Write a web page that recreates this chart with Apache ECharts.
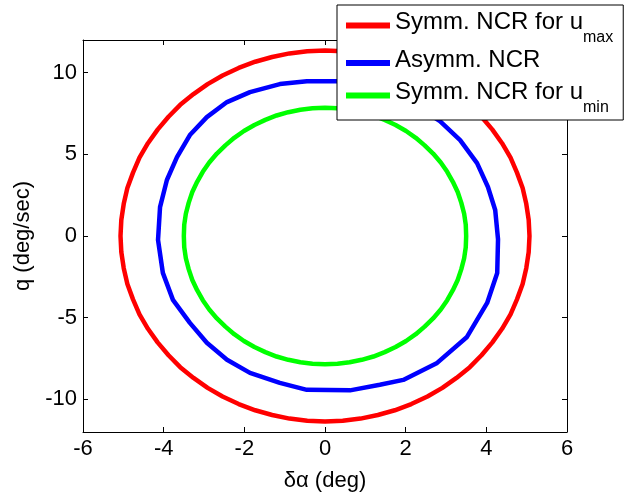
<!DOCTYPE html>
<html>
<head>
<meta charset="utf-8">
<script src="https://cdn.jsdelivr.net/npm/echarts@6/dist/echarts.min.js"></script>
<style>html,body{margin:0;padding:0;background:#fff}#c{width:625px;height:492px}</style>
</head>
<body>
<div id="c"></div>
<script>
// ---- data ----
const seriesNames = ['Symm. NCR for umax', 'Asymm. NCR', 'Symm. NCR for umin'];
const redX = [5.07,5.05,4.99,4.90,4.76,4.60,4.39,4.15,3.88,3.59,3.26,2.91,2.54,2.14,1.73,1.31,0.88,0.44,0,
  -0.44,-0.88,-1.31,-1.73,-2.14,-2.54,-2.91,-3.26,-3.59,-3.88,-4.15,-4.39,-4.60,-4.76,-4.90,-4.99,-5.05,-5.07,
  -5.05,-4.99,-4.90,-4.76,-4.60,-4.39,-4.15,-3.88,-3.59,-3.26,-2.91,-2.54,-2.14,-1.73,-1.31,-0.88,-0.44,0,
  0.44,0.88,1.31,1.73,2.14,2.54,2.91,3.26,3.59,3.88,4.15,4.39,4.60,4.76,4.90,4.99,5.05,5.07];
const redY = [0,0.99,1.97,2.94,3.88,4.80,5.68,6.51,7.30,8.03,8.69,9.30,9.83,10.29,10.67,10.96,11.18,11.31,11.35,
  11.31,11.18,10.96,10.67,10.29,9.83,9.30,8.69,8.03,7.30,6.51,5.68,4.80,3.88,2.94,1.97,0.99,0,
  -0.99,-1.97,-2.94,-3.88,-4.80,-5.68,-6.51,-7.30,-8.03,-8.69,-9.30,-9.83,-10.29,-10.67,-10.96,-11.18,-11.31,-11.35,
  -11.31,-11.18,-10.96,-10.67,-10.29,-9.83,-9.30,-8.69,-8.03,-7.30,-6.51,-5.68,-4.80,-3.88,-2.94,-1.97,-0.99,0];
const blueX = [4.29,4.22,4.04,3.77,3.35,2.85,2.05,1.2,0.4,-0.45,-1.12,-1.86,-2.43,-2.93,-3.35,-3.67,-3.92,-4.09,-4.14,-4.02,-3.77,-3.35,-2.93,-2.43,-1.86,-1.12,-0.45,0.62,1.36,1.94,2.78,3.52,4.02,4.27,4.29];
const blueY = [-0.2,1.59,3.0,4.46,5.87,7.03,8.3,9.1,9.48,9.48,9.30,8.81,8.20,7.28,6.18,4.83,3.43,1.77,-0.24,-2.26,-3.91,-5.32,-6.54,-7.58,-8.38,-8.99,-9.42,-9.45,-9.11,-8.81,-7.77,-6.18,-4.10,-2.26,-0.2];
const greenX = [3.5,3.49,3.45,3.38,3.29,3.17,3.03,2.87,2.68,2.47,2.25,2.01,1.75,1.48,1.20,0.91,0.61,0.31,0,
  -0.31,-0.61,-0.91,-1.20,-1.48,-1.75,-2.01,-2.25,-2.47,-2.68,-2.87,-3.03,-3.17,-3.29,-3.38,-3.45,-3.49,-3.5,
  -3.49,-3.45,-3.38,-3.29,-3.17,-3.03,-2.87,-2.68,-2.47,-2.25,-2.01,-1.75,-1.48,-1.20,-0.91,-0.61,-0.31,0,
  0.31,0.61,0.91,1.20,1.48,1.75,2.01,2.25,2.47,2.68,2.87,3.03,3.17,3.29,3.38,3.45,3.49,3.5];
const greenY = [0,0.69,1.36,2.03,2.69,3.32,3.93,4.50,5.05,5.55,6.01,6.43,6.80,7.11,7.38,7.58,7.73,7.82,7.85,
  7.82,7.73,7.58,7.38,7.11,6.80,6.43,6.01,5.55,5.05,4.50,3.93,3.32,2.69,2.03,1.36,0.69,0,
  -0.69,-1.36,-2.03,-2.69,-3.32,-3.93,-4.50,-5.05,-5.55,-6.01,-6.43,-6.80,-7.11,-7.38,-7.58,-7.73,-7.82,-7.85,
  -7.82,-7.73,-7.58,-7.38,-7.11,-6.80,-6.43,-6.01,-5.55,-5.05,-4.50,-3.93,-3.32,-2.69,-2.03,-1.36,-0.69,0];
const xTicks = [-6,-4,-2,0,2,4,6];
const yTicks = [-10,-5,0,5,10];
const xName = 'δα (deg)';
const yName = 'q (deg/sec)';

const zip = (xs, ys) => xs.map((x, i) => [x, ys[i]]);
const FONT = 'Arial, "Liberation Sans", sans-serif';
const chart = echarts.init(document.getElementById('c'), null, {renderer: 'canvas'});

const axisCommon = {
  axisLine: {show: true, onZero: false, lineStyle: {color: '#000', width: 1}},
  axisTick: {show: true, inside: true, length: 5, lineStyle: {color: '#000'}},
  splitLine: {show: false}
};
const lineStyleOf = c => ({color: c, width: 4.5, cap: 'round', join: 'round'});

const option = {
  backgroundColor: '#fff',
  animation: false,
  textStyle: {fontFamily: FONT},
  grid: {left: 83, right: 58, top: 40, bottom: 60, containLabel: false, outerBoundsMode: 'none'},
  xAxis: [
    Object.assign({}, axisCommon, {
      type: 'value', position: 'bottom', min: xTicks[0], max: xTicks[xTicks.length - 1], interval: 2,
      name: xName, nameLocation: 'middle', nameGap: 38,
      nameTextStyle: {fontSize: 22, color: '#000', fontFamily: FONT},
      axisLabel: {fontSize: 22, color: '#000', margin: 6, fontFamily: FONT}
    }),
    Object.assign({}, axisCommon, {
      type: 'value', position: 'top', min: xTicks[0], max: xTicks[xTicks.length - 1], interval: 2,
      axisLabel: {show: false}
    })
  ],
  yAxis: [
    Object.assign({}, axisCommon, {
      type: 'value', position: 'left', min: -12, max: 12,
      name: yName, nameLocation: 'middle', nameGap: 43,
      nameTextStyle: {fontSize: 22, color: '#000', fontFamily: FONT},
      axisLabel: {fontSize: 22, color: '#000', margin: 6, fontFamily: FONT, customValues: yTicks},
      axisTick: {show: true, inside: true, length: 5, lineStyle: {color: '#000'}, customValues: yTicks}
    }),
    Object.assign({}, axisCommon, {
      type: 'value', position: 'right', min: -12, max: 12,
      axisLabel: {show: false, customValues: yTicks},
      axisTick: {show: true, inside: true, length: 5, lineStyle: {color: '#000'}, customValues: yTicks}
    })
  ],
  legend: {
    orient: 'vertical', left: 337, top: 5,
    padding: [5.5, 10, 4.5, 9], itemGap: 2.5,
    icon: 'rect', itemWidth: 44, itemHeight: 6,
    backgroundColor: '#fff', borderColor: '#000', borderWidth: 1, borderRadius: 0,
    data: seriesNames,
    formatter: function (name) {
      const m = name.match(/^(.*u)(max|min)$/);
      if (m) return '{m|' + m[1] + '}{sub|' + m[2] + '}';
      return '{m|' + name + '}';
    },
    textStyle: {
      color: '#000', fontFamily: FONT, fontSize: 24,
      rich: {
        m: {fontSize: 24, lineHeight: 30, verticalAlign: 'middle', padding: [0, 0, 6, 0], color: '#000', fontFamily: FONT},
        sub: {fontSize: 16, lineHeight: 16, height: 6, verticalAlign: 'bottom', color: '#000', fontFamily: FONT}
      }
    }
  },
  series: [
    {name: seriesNames[0], type: 'line', data: zip(redX, redY), symbol: 'none',
     lineStyle: lineStyleOf('#ff0000'), itemStyle: {color: '#ff0000'}},
    {name: seriesNames[1], type: 'line', data: zip(blueX, blueY), symbol: 'none',
     lineStyle: lineStyleOf('#0000ff'), itemStyle: {color: '#0000ff'}},
    {name: seriesNames[2], type: 'line', data: zip(greenX, greenY), symbol: 'none',
     lineStyle: lineStyleOf('#00ff00'), itemStyle: {color: '#00ff00'}}
  ]
};
chart.setOption(option);
</script>
</body>
</html>
